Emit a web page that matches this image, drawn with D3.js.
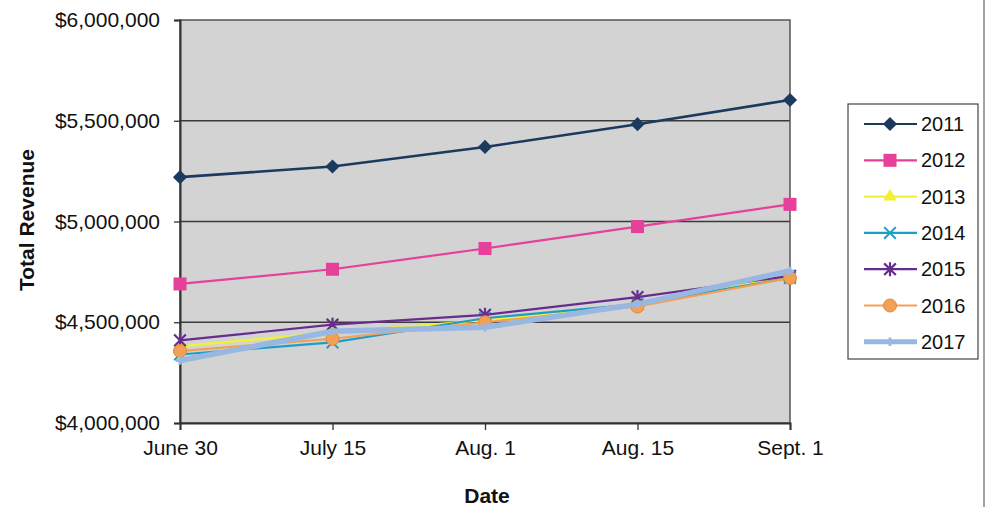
<!DOCTYPE html>
<html><head><meta charset="utf-8">
<script src="https://cdn.jsdelivr.net/npm/d3@7"></script>
<style>body{margin:0;background:#fff}svg{display:block}text{font-family:"Liberation Sans",Arial,sans-serif;fill:#111}</style>
</head><body><svg id="c" width="993" height="507"></svg>
<script>
const dates = ["June 30","July 15","Aug. 1","Aug. 15","Sept. 1"];
const years = ["2011","2012","2013","2014","2015","2016","2017"];
const v2011 = [5220000,5273000,5370000,5483000,5603000];
const v2012 = [4690000,4763000,4866000,4975000,5085000];
const v2013 = [4380000,4450000,4510000,4590000,4730000];
const v2014 = [4340000,4400000,4520000,4590000,4720000];
const v2015 = [4410000,4488000,4537000,4625000,4730000];
const v2016 = [4357000,4418000,4500000,4578000,4720000];
const v2017 = [4310000,4455000,4475000,4590000,4755000];
const yTicks = [4000000,4500000,5000000,5500000,6000000];
const colors = ["#1b3a5e","#e6409a","#f4f230","#1c9fc6","#662d8c","#f2a055","#98b8e2"];
const markers = ["diamond","square","triangle","x","star","circle","plus"];
const series = [v2011,v2012,v2013,v2014,v2015,v2016,v2017];

const svg = d3.select("#c");
const L=180,R=790,T=20,B=423;
const x = d3.scalePoint().domain(dates).range([L,R]);
const y = d3.scaleLinear().domain([4000000,6000000]).range([B,T]);

svg.append("rect").attr("x",L).attr("y",T).attr("width",R-L).attr("height",B-T).attr("fill","#d3d3d3");
svg.append("g").selectAll("line").data(yTicks.slice(1,4)).join("line")
  .attr("x1",L).attr("x2",R).attr("y1",d=>y(d)).attr("y2",d=>y(d)).attr("stroke","#3a3a3a").attr("stroke-width",1.3);
svg.append("rect").attr("x",L).attr("y",T).attr("width",R-L).attr("height",B-T).attr("fill","none").attr("stroke","#555").attr("stroke-width",1.5);

const fmt = d=>"$"+d3.format(",")(d);
const ya = svg.append("g").attr("transform",`translate(${L},0)`).call(d3.axisLeft(y).tickValues(yTicks).tickFormat(fmt).tickSize(6).tickPadding(14));
const xa = svg.append("g").attr("transform",`translate(0,${B})`).call(d3.axisBottom(x).tickSize(7).tickPadding(10));
[ya,xa].forEach(a=>{a.select(".domain").attr("stroke","#333").attr("stroke-width",2);a.selectAll(".tick line").attr("stroke","#333").attr("stroke-width",1.3);
 a.selectAll("text").attr("font-size",21).attr("font-family","'Liberation Sans',Arial,sans-serif").attr("fill","#111");});

svg.append("text").attr("transform","translate(34,220) rotate(-90)").attr("text-anchor","middle").attr("font-size",21).attr("font-weight","bold").text("Total Revenue");
svg.append("text").attr("x",487).attr("y",503).attr("text-anchor","middle").attr("font-size",21).attr("font-weight","bold").text("Date");

function marker(g,type,color,cx,cy){
  if(type==="diamond") g.append("rect").attr("x",cx-5).attr("y",cy-5).attr("width",10).attr("height",10).attr("transform",`rotate(45,${cx},${cy})`).attr("fill",color);
  else if(type==="square") g.append("rect").attr("x",cx-6.5).attr("y",cy-6.5).attr("width",13).attr("height",13).attr("fill",color);
  else if(type==="triangle") g.append("path").attr("d",d3.symbol(d3.symbolTriangle,80)()).attr("transform",`translate(${cx},${cy})`).attr("fill",color);
  else if(type==="x") g.append("path").attr("d",d3.symbol(d3.symbolX,90)()).attr("transform",`translate(${cx},${cy})`).attr("fill","none").attr("stroke",color).attr("stroke-width",2);
  else if(type==="star"){ g.append("path").attr("d",d3.symbol(d3.symbolX,90)()).attr("transform",`translate(${cx},${cy})`).attr("fill","none").attr("stroke",color).attr("stroke-width",2.2);
    g.append("line").attr("x1",cx).attr("x2",cx).attr("y1",cy-7).attr("y2",cy+7).attr("stroke",color).attr("stroke-width",2.2);}
  else if(type==="circle") g.append("circle").attr("cx",cx).attr("cy",cy).attr("r",6.5).attr("fill",color).attr("stroke","#e08a3a").attr("stroke-width",1);
  else if(type==="plus") g.append("path").attr("d",d3.symbol(d3.symbolCross,40)()).attr("transform",`translate(${cx},${cy})`).attr("fill",color);
}

const line = d3.line().x((d,i)=>x(dates[i])).y(d=>y(d));
series.forEach((s,k)=>{
  const g = svg.append("g");
  g.append("path").datum(s).attr("d",line).attr("fill","none").attr("stroke",colors[k]).attr("stroke-width",k===6?5.5:(k===0?2.6:2.2));
  s.forEach((v,i)=>marker(g,markers[k],colors[k],x(dates[i]),y(v)));
});

const lg = svg.append("g");
lg.append("rect").attr("x",848).attr("y",104).attr("width",130).attr("height",255).attr("fill","#fff").attr("stroke","#444").attr("stroke-width",1.2);
years.forEach((yr,k)=>{
  const cy = 124 + k*36.3;
  lg.append("line").attr("x1",864).attr("x2",917).attr("y1",cy).attr("y2",cy).attr("stroke",colors[k]).attr("stroke-width",k===6?5:2.2);
  marker(lg,markers[k],colors[k],890,cy);
  lg.append("text").attr("x",921).attr("y",cy+7).attr("font-size",20).text(yr);
});
svg.append("line").attr("x1",984).attr("x2",984).attr("y1",0).attr("y2",507).attr("stroke","#666").attr("stroke-width",1.2);
</script></body></html>
